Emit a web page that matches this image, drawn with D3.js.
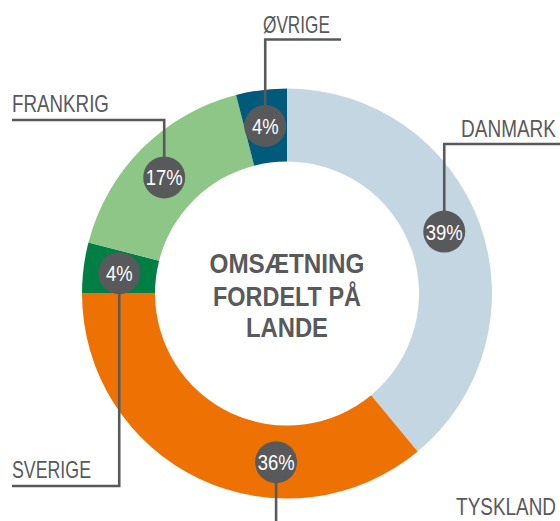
<!DOCTYPE html>
<html>
<head>
<meta charset="utf-8">
<script src="https://cdn.jsdelivr.net/npm/d3@7"></script>
<style>
  html, body { margin: 0; padding: 0; background: #ffffff; }
  svg { display: block; }
</style>
</head>
<body>
<svg id="chart" width="560" height="521"></svg>
<script>
// ---- data ----
const categories = ["DANMARK", "TYSKLAND", "SVERIGE", "FRANKRIG", "ØVRIGE"];
const values = [39, 36, 4, 17, 4];
const colors = ["#c5d6e3", "#ee7203", "#007f45", "#8ec688", "#005a7c"];
const centerLines = ["OMSÆTNING", "FORDELT PÅ", "LANDE"];

// ---- layout (label badge angle in degrees, leader elbow, text placement) ----
const labelLayout = [
  { angle: 68.5,  elbowY: 144,  endX: 562, textX: 556, anchor: "end",   textY: 137, textW: 95 },
  { angle: 183.7, elbowY: 530,  endX: null, textX: 556, anchor: "end",  textY: 515, textW: 100 },
  { angle: 276.9, elbowY: 486,  endX: 12,  textX: 12,  anchor: "start", textY: 478, textW: 79 },
  { angle: 313.4, elbowY: 120,  endX: 12,  textX: 12,  anchor: "start", textY: 112, textW: 97 },
  { angle: 352.6, elbowY: 39.5, endX: 341, textX: 263, anchor: "start", textY: 32.5, textW: 67 }
];
const centerWidths = [155, 148, 82];

const W = 560, H = 521;
const cx = 287, cy = 293.5;
const outerR = 205, innerR = 132, badgeR = 169, badgeSize = 21;
const grey = "#58595b";
const font = "'Liberation Sans', Arial, Helvetica, sans-serif";
const condense = 0.82;

const svg = d3.select("#chart");
const g = svg.append("g").attr("transform", `translate(${cx},${cy})`);

const pie = d3.pie().sort(null).value(d => d)(values);
const arc = d3.arc().innerRadius(innerR).outerRadius(outerR);

g.selectAll("path.slice")
  .data(pie)
  .join("path")
  .attr("class", "slice")
  .attr("d", arc)
  .attr("fill", (d, i) => colors[i]);

// helper: draw text condensed horizontally to a target width via transform
function condensedText(parent, x, y, str, opts) {
  const t = parent.append("text")
    .attr("x", 0).attr("y", 0)
    .attr("text-anchor", opts.anchor || "start")
    .attr("font-family", font)
    .attr("font-size", opts.size)
    .attr("font-weight", opts.weight || "normal")
    .attr("fill", opts.fill)
    .text(str);
  const len = t.node().getComputedTextLength();
  const sx = opts.width ? opts.width / len : opts.factor;
  t.attr("transform", `translate(${x},${y}) scale(${sx},1)`);
  return t;
}

// badge positions
const badgePos = labelLayout.map(l => {
  const a = l.angle * Math.PI / 180;
  return [cx + badgeR * Math.sin(a), cy - badgeR * Math.cos(a)];
});

// leader lines
const lines = svg.append("g");
labelLayout.forEach((l, i) => {
  const [bx, by] = badgePos[i];
  const pts = [[bx, by], [bx, l.elbowY]];
  if (l.endX !== null) pts.push([l.endX, l.elbowY]);
  lines.append("path")
    .attr("d", d3.line()(pts))
    .attr("fill", "none")
    .attr("stroke", grey)
    .attr("stroke-width", 2.6);
});

// badges
const badges = svg.append("g");
values.forEach((v, i) => {
  const [bx, by] = badgePos[i];
  badges.append("circle")
    .attr("cx", bx).attr("cy", by).attr("r", badgeSize)
    .attr("fill", grey);
  condensedText(badges, bx, by + 8, v + "%",
    { anchor: "middle", size: 22.5, fill: "#ffffff", factor: condense });
});

// category labels
const labels = svg.append("g");
categories.forEach((c, i) => {
  const l = labelLayout[i];
  condensedText(labels, l.textX, l.textY, c,
    { anchor: l.anchor, size: 23, fill: grey, width: l.textW });
});

// center title
const baselines = [273, 305.5, 337];
const title = svg.append("g");
centerLines.forEach((t, i) => {
  condensedText(title, cx, baselines[i], t,
    { anchor: "middle", size: 27, weight: "bold", fill: grey, width: centerWidths[i] });
});
</script>
</body>
</html>
